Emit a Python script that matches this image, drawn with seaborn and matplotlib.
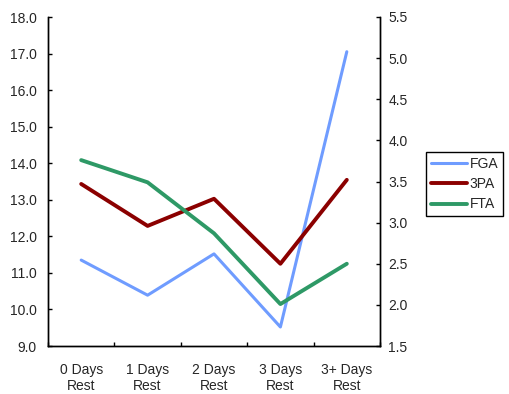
import numpy as np
import pandas as pd
import matplotlib
matplotlib.use("Agg")
import matplotlib.pyplot as plt
import seaborn as sns
from matplotlib.ticker import FormatStrFormatter, FixedLocator

rest = ["0 Days\nRest", "1 Days\nRest", "2 Days\nRest", "3 Days\nRest", "3+ Days\nRest"]
fga = [11.35, 10.39, 11.52, 9.52, 17.05]
tpa = [3.47, 2.96, 3.29, 2.50, 3.52]
fta = [3.76, 3.49, 2.87, 2.01, 2.50]

sns.set_style("white")
plt.rcParams["font.family"] = ["Liberation Sans", "DejaVu Sans"]
plt.rcParams["font.size"] = 10
plt.rcParams["xtick.direction"] = "in"
plt.rcParams["ytick.direction"] = "in"

df = pd.DataFrame({"x": np.arange(len(rest)), "FGA": fga, "3PA": tpa, "FTA": fta})

fig = plt.figure(figsize=(5.09, 3.94), dpi=100)
ax = fig.add_axes([48 / 509, 48 / 394, 332 / 509, 329 / 394])
ax2 = ax.twinx()

sns.lineplot(data=df, x="x", y="FGA", ax=ax, color="#6f9cff", lw=2.2, label="FGA", legend=False)
sns.lineplot(data=df, x="x", y="3PA", ax=ax2, color="#8b0000", lw=2.8, label="3PA", legend=False)
sns.lineplot(data=df, x="x", y="FTA", ax=ax2, color="#2e9966", lw=2.8, label="FTA", legend=False)

ax.set_xlim(-0.5, 4.5)
ax.set_ylim(9, 18)
ax2.set_ylim(1.5, 5.5)
ax.set_yticks(np.arange(9, 18.1, 1))
ax2.set_yticks(np.arange(1.5, 5.51, 0.5))
ax.yaxis.set_major_formatter(FormatStrFormatter("%.1f"))
ax2.yaxis.set_major_formatter(FormatStrFormatter("%.1f"))

ax.set_xticks(range(len(rest)))
ax.set_xticklabels(rest)
ax.xaxis.set_minor_locator(FixedLocator(np.arange(-0.5, 4.6, 1)))
ax.tick_params(axis="x", which="major", length=0, pad=12)
ax.tick_params(axis="x", which="minor", direction="in", length=3, width=1, color="black", bottom=True)
ax.tick_params(axis="y", which="major", direction="in", length=3, width=1, color="black", left=True, pad=8)
ax2.tick_params(axis="y", which="major", direction="in", length=3, width=1, color="black", right=True, pad=6)

for a in (ax, ax2):
    a.set_xlabel("")
    a.set_ylabel("")
    a.spines["top"].set_visible(False)
    for s in ("left", "right", "bottom"):
        a.spines[s].set_color("black")
        a.spines[s].set_linewidth(1)

h1, l1 = ax.get_legend_handles_labels()
h2, l2 = ax2.get_legend_handles_labels()
leg = fig.legend(h1 + h2, l1 + l2, loc="upper left", bbox_to_anchor=(426 / 509, 1 - 152 / 394),
                 frameon=True, fancybox=False, edgecolor="black", framealpha=1,
                 handlelength=2.6, handletextpad=0.2, borderpad=0.35, labelspacing=0.45,
                 borderaxespad=0, fontsize=10)
leg.get_frame().set_linewidth(1)

fig.savefig("out.png", dpi=100)
